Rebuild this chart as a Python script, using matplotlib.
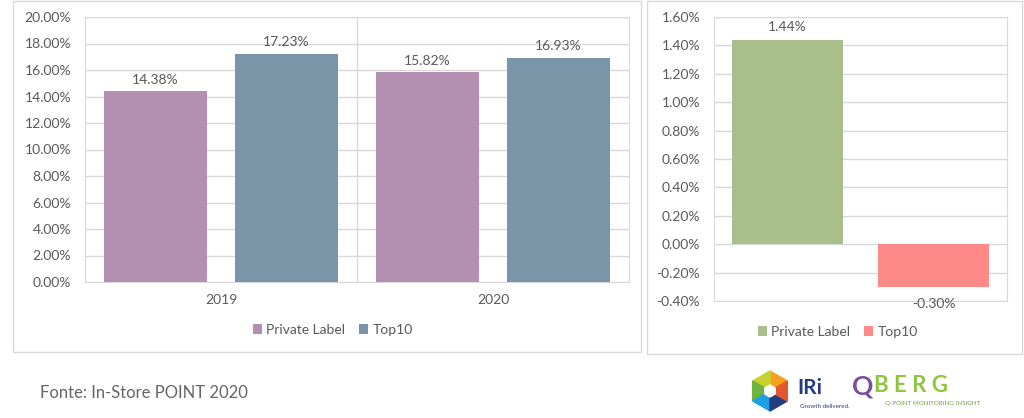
import numpy as np
import matplotlib.pyplot as plt
from matplotlib.patches import Rectangle, Polygon

# data
years = ['2019', '2020']
private_label = [14.38, 15.82]
top10 = [17.23, 16.93]
diff_labels = ['Private Label', 'Top10']
diff_values = [1.44, -0.30]

plt.rcParams['font.family'] = ['Lato', 'DejaVu Sans']
grey = '#595959'
grid = '#D9D9D9'
c_pl = '#B390B2'
c_top = '#7A95A8'
c_green = '#A8BF8C'
c_red = '#FF8888'
fs = 10

fig = plt.figure(figsize=(10.24, 4.18), dpi=100)

# outer panel borders
fig.patches.append(Rectangle((13 / 1024, 1 - 352 / 418), 628 / 1024, 351 / 418,
                             transform=fig.transFigure, fill=False, edgecolor=grid, lw=1))
fig.patches.append(Rectangle((647 / 1024, 1 - 354 / 418), 375 / 1024, 353 / 418,
                             transform=fig.transFigure, fill=False, edgecolor=grid, lw=1))

# left chart
ax1 = fig.add_axes([85 / 1024, 1 - 282 / 418, 544 / 1024, 265 / 418])
x = np.arange(len(years))
w = 0.379
off = 0.241
b1 = ax1.bar(x - off, private_label, w, color=c_pl, label='Private Label', zorder=3)
b2 = ax1.bar(x + off, top10, w, color=c_top, label='Top10', zorder=3)
for bars in (b1, b2):
    ax1.bar_label(bars, labels=['%.2f%%' % v for v in bars.datavalues],
                  padding=4, color=grey, fontsize=fs)
ax1.set_xlim(-0.5, 1.5)
ax1.set_ylim(0, 20)
ax1.set_yticks(np.arange(0, 21, 2))
ax1.set_yticklabels(['%.2f%%' % v for v in np.arange(0, 21, 2)])
ax1.set_xticks(x)
ax1.set_xticklabels(years)
ax1.set_xticks([0.5], minor=True)
ax1.grid(axis='y', color=grid, lw=1, zorder=0)
ax1.grid(axis='x', which='minor', color=grid, lw=1, zorder=0)
ax1.tick_params(length=0, colors=grey, labelsize=fs, pad=10)
ax1.tick_params(axis='x', which='both', length=0, pad=9)
for s in ax1.spines.values():
    s.set_color(grid)
fig.legend(handles=[b1, b2], loc='center', bbox_to_anchor=(333 / 1024, 1 - 330 / 418),
           ncol=2, frameon=False, fontsize=fs, labelcolor=grey, handlelength=0.65,
           handleheight=0.65, handletextpad=0.3, columnspacing=1.0)

# right chart
ax2 = fig.add_axes([714 / 1024, 1 - 301 / 418, 293 / 1024, 284 / 418])
cols = [c_green, c_red]
bars = []
for i, (lab, v) in enumerate(zip(diff_labels, diff_values)):
    b = ax2.bar(i, v, 0.76, color=cols[i], label=lab, zorder=3)
    bars.append(b)
    ax2.bar_label(b, labels=['%.2f%%' % v], padding=5 if v > 0 else 8,
                  color=grey, fontsize=fs)
ax2.set_xlim(-0.5, 1.5)
ax2.set_ylim(-0.4, 1.6)
yt = np.arange(-0.4, 1.61, 0.2)
ax2.set_yticks(yt)
ax2.set_yticklabels(['%.2f%%' % v for v in yt])
ax2.set_xticks([])
ax2.grid(axis='y', color=grid, lw=1, zorder=0)
ax2.tick_params(length=0, colors=grey, labelsize=fs, pad=10)
for s in ax2.spines.values():
    s.set_color(grid)
fig.legend(handles=bars, loc='center', bbox_to_anchor=(838 / 1024, 1 - 332 / 418),
           ncol=2, frameon=False, fontsize=fs, labelcolor=grey, handlelength=0.65,
           handleheight=0.65, handletextpad=0.3, columnspacing=1.0)

# source
fig.text(40 / 1024, 1 - 393 / 418, 'Fonte: In-Store POINT 2020', fontsize=12,
         color='#666666', va='center')

# logos
lg = fig.add_axes([748 / 1024, 1 - 414 / 418, 44 / 1024, 46 / 418])
lg.set_xlim(-1.1, 1.1)
lg.set_ylim(-1.15, 1.15)
lg.axis('off')
hex_cols = ['#C5D22D', '#6DB33F', '#1BA1E2', '#253B80', '#E4572E', '#F4A21E']
ang = np.radians(np.arange(30, 391, 60))
for k in range(6):
    pts = [(0, 0), (np.cos(ang[k]), np.sin(ang[k])), (np.cos(ang[k + 1]), np.sin(ang[k + 1]))]
    lg.add_patch(Polygon(pts, color=hex_cols[(k + 5) % 6]))
lg.add_patch(Polygon([(0.3 * np.cos(a), 0.3 * np.sin(a)) for a in ang[:6]], color='white'))

fig.text(797 / 1024, 1 - 388 / 418, 'IRi', fontsize=15, fontweight='bold',
         color='#253B80', va='center')
fig.text(800 / 1024, 1 - 406 / 418, 'Growth delivered.', fontsize=4.5,
         color='#253B80', va='center')
fig.text(852 / 1024, 1 - 386 / 418, 'Q', fontsize=19, fontweight='bold',
         color='#7B4F9E', va='center')
fig.text(874 / 1024, 1 - 386 / 418, 'B E R G', fontsize=16, fontweight='bold',
         color='#8DC63F', va='center')
fig.text(885 / 1024, 1 - 403 / 418, 'Q-POINT MONITORING INSIGHT', fontsize=4.5,
         color='#7B9E3F', va='center')

fig.savefig('out.png', dpi=100)
